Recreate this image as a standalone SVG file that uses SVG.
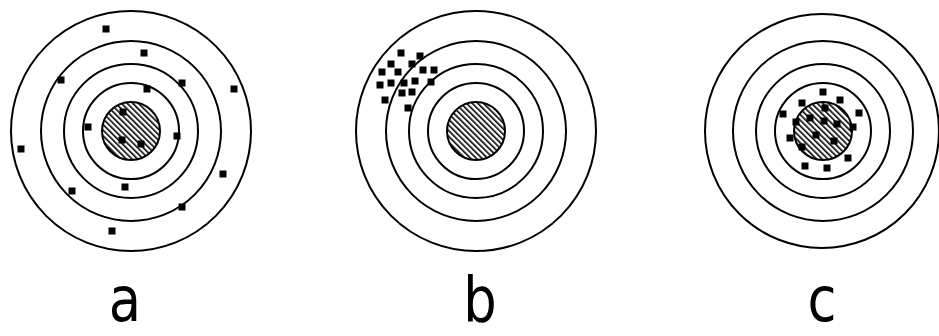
<svg xmlns="http://www.w3.org/2000/svg" width="939" height="336" viewBox="0 0 939 336">
<style>
.ring{fill:none;stroke:#000;stroke-width:2}
.bull{fill:url(#hatch);stroke:#000;stroke-width:2}
.dot{fill:#000}
.lbl{font-family:"DejaVu Sans","Liberation Sans",sans-serif;font-size:62px;fill:#000;text-anchor:middle}
</style>
<defs>
<pattern id="hatch" patternUnits="userSpaceOnUse" width="4" height="4" patternTransform="rotate(-45)">
<rect width="4" height="4" fill="#fff"/>
<rect x="0" y="0" width="1.6" height="4" fill="#000"/>
</pattern>
<rect id="d" x="-3.5" y="-3.5" width="7" height="7"/>
</defs>
<rect width="939" height="336" fill="#fff"/>
<g id="target-a">
<circle class="ring" cx="131" cy="131" r="120"/>
<circle class="ring" cx="131" cy="131" r="90"/>
<circle class="ring" cx="131" cy="131" r="67"/>
<circle class="ring" cx="131" cy="131" r="48"/>
<circle class="bull" cx="131" cy="131" r="29"/>
<g class="dot">
<use href="#d" x="106" y="29"/>
<use href="#d" x="144" y="53"/>
<use href="#d" x="61" y="80"/>
<use href="#d" x="182" y="83"/>
<use href="#d" x="234" y="89"/>
<use href="#d" x="147" y="89"/>
<use href="#d" x="88" y="127"/>
<use href="#d" x="177" y="136"/>
<use href="#d" x="123" y="112"/>
<use href="#d" x="122" y="140"/>
<use href="#d" x="141" y="144"/>
<use href="#d" x="21" y="149"/>
<use href="#d" x="223" y="174"/>
<use href="#d" x="72" y="191"/>
<use href="#d" x="125" y="187"/>
<use href="#d" x="182" y="207"/>
<use href="#d" x="112" y="231"/>
</g>
</g>
<g id="target-b">
<circle class="ring" cx="476" cy="131" r="120"/>
<circle class="ring" cx="476" cy="131" r="90"/>
<circle class="ring" cx="476" cy="131" r="67"/>
<circle class="ring" cx="476" cy="131" r="48"/>
<circle class="bull" cx="476" cy="131" r="29"/>
<g class="dot">
<use href="#d" x="401" y="53"/>
<use href="#d" x="420" y="56"/>
<use href="#d" x="391" y="64"/>
<use href="#d" x="412" y="64"/>
<use href="#d" x="382" y="72"/>
<use href="#d" x="398" y="72"/>
<use href="#d" x="423" y="70"/>
<use href="#d" x="434" y="70"/>
<use href="#d" x="380" y="85"/>
<use href="#d" x="391" y="83"/>
<use href="#d" x="404" y="83"/>
<use href="#d" x="415" y="81"/>
<use href="#d" x="431" y="82"/>
<use href="#d" x="402" y="93"/>
<use href="#d" x="412" y="92"/>
<use href="#d" x="385" y="100"/>
<use href="#d" x="408" y="108"/>
</g>
</g>
<g id="target-c">
<circle class="ring" cx="822" cy="131" r="117"/>
<circle class="ring" cx="823" cy="131" r="90"/>
<circle class="ring" cx="823" cy="131" r="67"/>
<circle class="ring" cx="823" cy="131" r="48"/>
<circle class="bull" cx="823" cy="131" r="29"/>
<g class="dot">
<use href="#d" x="823" y="92"/>
<use href="#d" x="802" y="103"/>
<use href="#d" x="840" y="100"/>
<use href="#d" x="783" y="114"/>
<use href="#d" x="859" y="113"/>
<use href="#d" x="796" y="122"/>
<use href="#d" x="853" y="127"/>
<use href="#d" x="790" y="138"/>
<use href="#d" x="802" y="147"/>
<use href="#d" x="848" y="158"/>
<use href="#d" x="805" y="166"/>
<use href="#d" x="827" y="168"/>
<use href="#d" x="825" y="108"/>
<use href="#d" x="810" y="118"/>
<use href="#d" x="824" y="121"/>
<use href="#d" x="837" y="124"/>
<use href="#d" x="816" y="135"/>
<use href="#d" x="834" y="141"/>
</g>
</g>
<g id="labels">
<text class="lbl" transform="translate(125,321) scale(0.85,1)">a</text>
<text class="lbl" transform="translate(480,321) scale(0.85,1)">b</text>
<text class="lbl" transform="translate(822,321) scale(0.85,1)">c</text>
</g>
</svg>
